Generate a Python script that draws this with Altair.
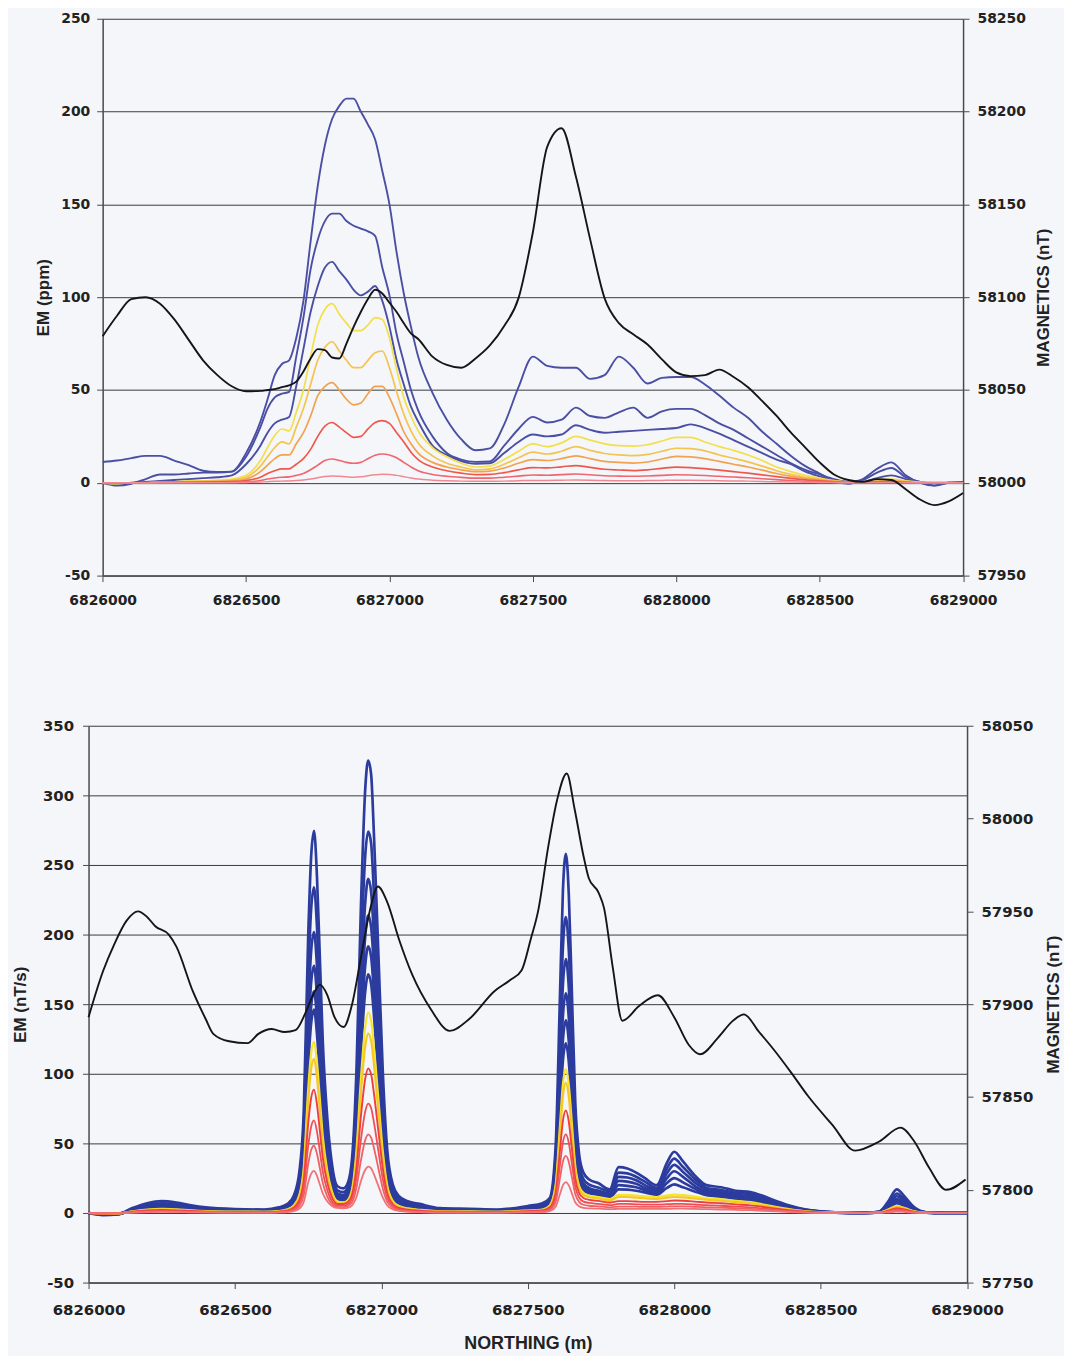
import altair as alt
import pandas as pd

BASE_NORTHING = 6826000
X_TICKS = [6826000, 6826500, 6827000, 6827500, 6828000, 6828500, 6829000]

# ---------------- TOP PANEL: EM (ppm) + magnetics ----------------
# distance along the line from 6826000 N (m)
TOP_DIST = [0, 50, 100, 150, 200, 250, 300, 350, 400, 450, 500,
            550, 575, 600, 625, 650, 675, 700, 725, 750, 775, 800, 825, 850, 875, 900,
            925, 950, 975, 1000, 1025, 1050, 1075, 1100,
            1150, 1200, 1250, 1300, 1350, 1400, 1450, 1500,
            1550, 1600, 1650, 1700, 1750, 1800, 1850, 1900, 1950, 2000,
            2050, 2100, 2150, 2200, 2250, 2300, 2350, 2400, 2450, 2500,
            2550, 2600, 2650, 2700, 2750, 2800, 2850, 2900, 2950, 3000]

TOP_BLUE_1 = [11.2, 12, 13.3, 14.5, 14.5, 12, 9.5, 6.5, 5.8, 6, 16,
              33, 45, 58, 64, 66, 78, 98, 130, 160, 182, 196, 203, 207, 207, 200, 193, 185, 168, 150, 124, 102, 84, 68,
              48.5, 34, 23.5, 17.5, 18.5, 31.5, 51.5, 68,
              63, 62, 62, 56, 58, 68, 62, 53.5, 56.5, 57,
              57, 53, 47, 40.5, 35, 27.5, 21, 14.5, 9, 5, 1, -0.5, 2, 7.5, 11, 4, 0, -1.5, 0, 0.5]
TOP_BLUE_2 = [0, -1.5, -0.5, 2, 4.5, 4.5, 5, 5.5, 5.5, 6, 14,
              30, 40, 46, 48, 49, 68, 89, 115, 131, 141, 145, 145, 141, 138.5, 137, 135.5, 133, 116, 101, 80, 65, 50, 39,
              25, 16, 12.5, 11.3, 11.5, 20, 29, 35.5,
              32.5, 34, 40.5, 36, 35, 38, 40.5, 35, 38.5, 39.8,
              39.8, 36.5, 32, 28.5, 24, 19.5, 15, 10.5, 7, 4.5, 2, 0.5, 1.5, 5.5, 8, 3, 0.5, -1.5, 0, 0]
TOP_BLUE_3 = [0, -0.5, 0, 0.5, 1, 1.5, 2, 2.5, 3, 4, 10,
              20, 27, 32, 34, 35.5, 52, 72, 92, 106, 116, 119, 114, 109.5, 104, 101, 103, 106, 98, 84, 66, 53, 41, 33,
              20, 15, 11.7, 10.3, 10.5, 16, 22, 26,
              25, 26, 31, 28.5, 27, 27.5, 28, 28.5, 29, 29.5,
              31.5, 29.5, 26.5, 23, 19.5, 16, 12.5, 10, 6, 3.5, 1.5, 0.3, 0.5, 2.5, 4, 2, 0.5, 0, 0, 0]
TOP_YELLOW = [0, -0.5, 0, 0, 0.5, 0.5, 1, 1, 1.5, 2, 4,
              12, 19, 25.5, 29, 28, 38, 50, 68, 85, 93.5, 96.5, 91, 86, 82, 82, 85, 89, 88, 78, 61, 46, 36, 28,
              19, 14, 10.5, 8.5, 9, 12.5, 17, 21,
              19.5, 21.5, 25, 23, 21, 20, 19.8, 20.5, 22.5, 24.5,
              24.5, 22, 19.5, 17.5, 15, 12, 8.5, 6, 4, 2.5, 1.2, 0.5, 0.5, 1.5, 2, 1, 0.3, 0, 0, 0]
TOP_AMBER = [0, -0.3, 0, 0, 0.3, 0.4, 0.6, 0.8, 1, 1.5, 3,
             9, 14, 19, 22, 21, 30, 40, 53, 66, 73, 76, 71, 66, 62, 62, 66, 70, 71, 62, 49, 37, 28, 21.5,
             14.5, 10.5, 8.5, 7, 7.5, 10, 13.5, 16.5,
             15.5, 17, 19.5, 17.5, 15.8, 15, 14.6, 15.3, 17, 18.6,
             18.4, 17.2, 15, 13.2, 11.3, 9, 6.5, 4.5, 3, 2, 1, 0.4, 0.4, 1, 1.5, 0.7, 0.2, 0, 0, 0]
TOP_ORANGE = [0, -0.2, 0, 0, 0.2, 0.3, 0.4, 0.6, 0.8, 1, 2,
              6, 9.5, 13, 15, 15, 21, 27, 36, 47, 52, 54, 50, 45, 42, 43, 48, 52, 52, 46, 37, 27.5, 21, 16,
              11, 8.5, 7, 6, 6.3, 8, 10.5, 12.5,
              12, 13, 14.5, 13, 11.5, 11, 10.6, 11.2, 12.8, 14.2,
              14, 13, 11.5, 10, 8.5, 6.8, 5, 3.5, 2.3, 1.5, 0.8, 0.3, 0.3, 0.6, 1, 0.5, 0, 0, 0, 0]
TOP_RED_1 = [0, 0, 0, 0.1, 0.2, 0.2, 0.3, 0.4, 0.5, 0.6, 1.2,
             3, 5, 6.5, 7.5, 7.5, 10, 13, 18, 25, 30.5, 32.5, 30, 27, 24.5, 25, 29, 32.5, 33.5, 32, 27, 22, 16.5, 12.5,
             8.5, 6.5, 5.2, 4.4, 4.5, 5.5, 7, 8.2,
             8, 8.6, 9.3, 8.3, 7.3, 6.9, 6.6, 7, 7.8, 8.4,
             8.2, 7.6, 6.8, 6, 5.2, 4.3, 3.3, 2.4, 1.6, 1, 0.5, 0.2, 0.2, 0.4, 0.6, 0.3, 0, 0, 0, 0]
TOP_RED_2 = [0, 0, 0, 0, 0.1, 0.1, 0.1, 0.2, 0.2, 0.3, 0.5,
             1.2, 2, 2.6, 3, 3.2, 4, 5, 7, 9.5, 12, 12.8, 12, 11, 10.5, 11, 13, 14.8, 15.5, 15, 13.5, 11, 8.5, 6.5,
             4.5, 3.5, 2.9, 2.5, 2.5, 3, 3.6, 4.2,
             4.1, 4.4, 4.7, 4.3, 3.8, 3.6, 3.5, 3.7, 4, 4.3,
             4.2, 3.9, 3.5, 3.1, 2.7, 2.2, 1.7, 1.2, 0.8, 0.5, 0.2, 0.1, 0.1, 0.2, 0.3, 0.1, 0, 0, 0, 0]
TOP_RED_3 = [0, 0, 0, 0, 0, 0, 0, 0, 0, 0, 0.2,
             0.4, 0.6, 0.8, 0.9, 1, 1.2, 1.5, 2, 2.7, 3.4, 3.7, 3.5, 3.2, 3, 3.2, 3.8, 4.3, 4.6, 4.5, 4, 3.3, 2.6, 2,
             1.4, 1.1, 0.9, 0.8, 0.8, 0.9, 1.1, 1.3,
             1.3, 1.4, 1.5, 1.4, 1.2, 1.1, 1.1, 1.2, 1.3, 1.4,
             1.4, 1.3, 1.1, 1, 0.9, 0.7, 0.5, 0.4, 0.3, 0.2, 0.1, 0, 0, 0, 0, 0, 0, 0, 0, 0]
TOP_MAG = [58079, 58090, 58099, 58100, 58096.5, 58088, 58077, 58066, 58058, 58052, 58049.3,
           58049.5, 58050, 58050.5, 58051.5, 58052.5, 58054.5, 58060, 58067, 58072, 58071.5, 58067.5, 58067,
           58075, 58084, 58092, 58099, 58104, 58102, 58097, 58092, 58086, 58080.5, 58077.5,
           58068, 58063.5, 58062, 58067, 58074, 58084.5, 58099.5, 58135,
           58181, 58191, 58165, 58131, 58099.5, 58086, 58080, 58074.5, 58066.5, 58059.5,
           58057.5, 58058, 58061, 58057, 58051.5, 58044, 58036, 58027, 58019, 58011,
           58004.5, 58001.5, 58000.5, 58002, 58001.5, 57996.5, 57991, 57988, 57990, 57994.5]

TOP_SERIES = [("EM ch 1", TOP_BLUE_1), ("EM ch 2", TOP_BLUE_2), ("EM ch 3", TOP_BLUE_3),
              ("EM ch 4", TOP_YELLOW), ("EM ch 5", TOP_AMBER), ("EM ch 6", TOP_ORANGE),
              ("EM ch 7", TOP_RED_1), ("EM ch 8", TOP_RED_2), ("EM ch 9", TOP_RED_3)]
TOP_COLORS = ["#4b4fa3", "#4b4fa3", "#4b4fa3", "#f3df4a", "#f5c34e", "#f2a24c",
              "#ee584c", "#ee6670", "#f08a90"]
TOP_WIDTHS = [1.9, 1.9, 1.9, 1.7, 1.7, 1.7, 1.7, 1.6, 1.5]

# ---------------- BOTTOM PANEL: EM (nT/s) + magnetics ----------------
BOT_DIST = [0, 50, 100, 150, 200, 250, 300, 350, 400, 500, 600, 650,
            680, 700, 720, 735, 750, 760, 770, 780, 790, 800, 815, 830, 850,
            870, 885, 900, 915, 930, 945, 955, 965, 975, 990, 1005, 1020, 1040, 1060, 1090,
            1130, 1200, 1300, 1400, 1500, 1550,
            1575, 1595, 1610, 1620, 1630, 1640, 1650, 1662, 1675, 1690, 1710, 1740,
            1780, 1810, 1840, 1870, 1900, 1940, 1975, 2000, 2030, 2070, 2110, 2160, 2210, 2260, 2300, 2350, 2400,
            2450, 2550, 2650, 2700, 2730, 2760, 2790, 2820, 2860, 2920, 3000]

BOT_BLUE_1 = [0, -1.5, -1, 3.5, 7, 8.5, 7.5, 5.5, 4, 2.8, 2.5, 4,
              6.6, 12, 29.7, 73, 198, 255.5, 274.5, 242, 182.5, 122.7, 69, 37, 19.2,
              17.7, 21.4, 39.6, 103, 219, 305, 325, 315, 269.5, 185, 100.5, 45.3, 19.8, 12.1, 8.4,
              6.5, 3.5, 3, 2.5, 5, 7,
              10.7, 47.5, 157, 232, 258, 229, 162, 80, 42.7, 29, 24, 21.5,
              17, 33, 32, 29, 25, 20, 36, 44, 37, 27, 20, 18.5, 16, 15, 12.5, 8.5, 5,
              2.5, 0.5, 0, 1, 8, 17, 11, 4, 0.5, 0, 0]
BOT_BLUE_2 = [0, -1.2, -0.8, 2.9, 5.7, 7, 6.2, 4.5, 3.3, 2.3, 2.1, 3.3,
              5.5, 10.1, 25.2, 62.3, 169, 217.8, 234, 206, 155.5, 104.5, 58.7, 31.4, 16.3,
              15, 18.1, 33.4, 87, 184.5, 257.3, 274, 265.5, 227.2, 156, 84.7, 38.1, 16.6, 10.2, 7,
              5.3, 2.9, 2.5, 2, 4.1, 5.7,
              9, 39.4, 129.5, 191.3, 212.5, 189, 133.8, 66.6, 35.8, 24.4, 20.4, 18.3,
              15.5, 29, 28.5, 26, 22.5, 18, 32, 39, 33, 24.5, 18, 16.5, 14.5, 13.5, 11, 7.5, 4.5,
              2.2, 0.4, 0, 0.8, 6.5, 14, 9, 3.3, 0.4, 0, 0]
BOT_BLUE_3 = [0, -1, -0.7, 2.5, 4.9, 6, 5.3, 3.9, 2.8, 2, 1.8, 2.8,
              4.8, 8.8, 21.8, 53.8, 145.8, 187.8, 201.8, 177.8, 134.1, 90.1, 50.6, 27.1, 14,
              12.9, 15.6, 28.9, 75.5, 160.1, 223.4, 240, 230.6, 197.3, 135.4, 73.5, 33, 14.4, 8.8, 6.1,
              4.6, 2.5, 2.1, 1.8, 3.5, 4.9,
              7.9, 33.9, 111.2, 164.2, 182.4, 162.2, 115, 57.4, 31.1, 21.4, 17.9, 16.1,
              14, 26, 25.5, 23.5, 20, 16.5, 28.5, 34.5, 29.5, 22, 16.5, 15, 13, 12, 10, 6.8, 4,
              2, 0.3, 0, 0.7, 5.5, 12, 7.8, 2.8, 0.3, 0, 0]
BOT_BLUE_4 = [0, -0.9, -0.6, 2.1, 4.2, 5.1, 4.5, 3.3, 2.4, 1.7, 1.5, 2.4,
              4.1, 7.7, 19.1, 47.3, 128.2, 165.2, 177.5, 156.4, 118, 79.2, 44.4, 23.7, 12.3,
              11.3, 13.8, 25.6, 67.2, 142.6, 199, 213.8, 205.3, 175.6, 120.5, 65.4, 29.4, 12.7, 7.7, 5.2,
              3.9, 2.1, 1.8, 1.5, 3, 4.2,
              7.2, 29.6, 96.3, 142, 157.7, 140.4, 99.8, 50.2, 27.6, 19.3, 16.3, 14.8,
              13, 23, 22.5, 21, 18, 15, 25, 30, 26, 19.5, 15, 13.8, 12, 11, 9, 6.2, 3.6,
              1.8, 0.3, 0, 0.6, 4.6, 10, 6.5, 2.4, 0.3, 0, 0]
BOT_BLUE_5 = [0, -0.8, -0.5, 1.8, 3.6, 4.4, 3.9, 2.9, 2.1, 1.5, 1.3, 2.1,
              3.7, 6.8, 17.1, 42.4, 115.1, 148.2, 159.3, 140.3, 105.9, 71.1, 39.9, 21.3, 11,
              10.1, 12.4, 23, 60.2, 127.8, 178.3, 191.6, 184, 157.4, 108, 58.6, 26.3, 11.3, 6.9, 4.6,
              3.4, 1.8, 1.6, 1.3, 2.6, 3.6,
              6.6, 26.3, 84.5, 124.5, 138.3, 123.2, 87.8, 44.7, 25, 17.7, 15.1, 13.8,
              12, 20, 19.5, 18.5, 16.5, 14, 21.5, 25, 22, 17.5, 13.8, 12.8, 11, 10, 8.2, 5.6, 3.3,
              1.6, 0.3, 0, 0.5, 3.9, 8.5, 5.5, 2, 0.2, 0, 0]
BOT_BLUE_6 = [0, -0.7, -0.5, 1.6, 3.2, 3.8, 3.4, 2.5, 1.8, 1.3, 1.1, 1.8,
              3.3, 6.2, 15.6, 38.8, 105.5, 136, 146.1, 128.7, 97, 65.2, 36.5, 19.5, 10,
              9.1, 11, 20.5, 53.8, 114.3, 159.5, 171.4, 164.6, 140.8, 96.6, 52.4, 23.5, 10.1, 6.1, 4,
              2.9, 1.6, 1.4, 1.1, 2.3, 3.2,
              6, 23.4, 74.6, 109.7, 121.8, 108.6, 77.7, 39.8, 22.7, 16.4, 14.1, 13,
              11, 17, 16.8, 16, 14.8, 13, 18, 20.5, 18.5, 15.5, 12.8, 11.8, 10.2, 9.2, 7.5, 5.1, 3,
              1.4, 0.2, 0, 0.4, 3.3, 7, 4.6, 1.7, 0.2, 0, 0]
BOT_YELLOW_1 = [0, -0.5, -0.4, 1.2, 2.5, 3, 2.6, 1.9, 1.4, 1, 0.9, 1.4,
                2.7, 5.2, 13.1, 32.6, 88.7, 114.4, 122.9, 108.3, 81.6, 54.8, 30.6, 16.3, 8.3,
                7.6, 9.2, 17.2, 45.2, 96, 134, 144, 138.4, 118.3, 81.2, 44, 19.7, 8.4, 5, 3.3,
                2.3, 1.2, 1.1, 0.9, 1.8, 2.5,
                5.4, 19.9, 63.2, 92.8, 103.1, 92, 65.9, 34, 19.6, 14.4, 12.4, 11.5,
                10, 13, 13, 12.5, 12, 11.5, 12.5, 13.2, 12.8, 11.8, 10.5, 9.8, 8.7, 7.8, 6.3, 4.3, 2.5,
                1.2, 0.2, 0, 0.3, 2.4, 5, 3.3, 1.2, 0.1, 0, 0]
BOT_YELLOW_2 = [0, -0.5, -0.3, 1, 2.1, 2.6, 2.3, 1.7, 1.2, 0.8, 0.8, 1.2,
                2.4, 4.6, 11.8, 29.4, 80, 103, 110.8, 97.6, 73.5, 49.3, 27.6, 14.6, 7.4,
                6.8, 8.2, 15.4, 40.4, 86, 119.9, 128.9, 123.8, 105.9, 72.6, 39.3, 17.5, 7.5, 4.4, 2.9,
                2, 1.1, 0.9, 0.8, 1.5, 2.1,
                4.8, 18.1, 57.3, 84.2, 93.5, 83.4, 59.8, 30.9, 17.8, 13, 11.3, 10.4,
                9, 11.5, 11.5, 11, 10.6, 10, 11, 11.5, 11.2, 10.4, 9.5, 8.8, 7.8, 7, 5.6, 3.8, 2.2,
                1.1, 0.2, 0, 0.3, 2.1, 4.5, 3, 1.1, 0.1, 0, 0]
BOT_RED_1 = [0, -0.4, -0.3, 0.9, 1.8, 2.1, 1.9, 1.4, 1, 0.7, 0.6, 1,
             1.9, 3.7, 9.4, 23.5, 64, 82.4, 88.6, 78, 58.9, 39.5, 22.1, 11.8, 6.5,
             6.5, 7.7, 13.2, 32.6, 69.2, 96.6, 103.8, 99.6, 85.2, 58.4, 31.7, 14.2, 6.1, 3.6, 2.3,
             1.6, 0.9, 0.8, 0.6, 1.3, 1.8,
             3.9, 14.4, 45.2, 66.3, 73.6, 65.7, 47.3, 24.6, 14.5, 10.8, 9.4, 8.7,
             7.5, 8.5, 8.5, 8.2, 8, 8, 8.5, 9, 8.8, 8.2, 7.5, 7, 6.2, 5.5, 4.5, 3, 1.8,
             0.9, 0.1, 0, 0.2, 1.6, 3.5, 2.3, 0.8, 0.1, 0, 0]
BOT_RED_2 = [0, -0.3, -0.2, 0.6, 1.3, 1.5, 1.4, 1, 0.7, 0.5, 0.5, 0.7,
             1.5, 2.8, 7.1, 17.6, 48, 61.8, 66.5, 58.5, 44.1, 29.6, 16.6, 8.8, 5.2,
             5.3, 6.2, 10.4, 25.2, 52.4, 73.1, 78.6, 75.4, 64.5, 44.2, 24, 11, 4.9, 2.8, 1.7,
             1.2, 0.6, 0.5, 0.5, 0.9, 1.3,
             3, 11.1, 34.7, 50.9, 56.5, 50.4, 36.3, 18.9, 11.1, 8.2, 7.2, 6.6,
             5.6, 6.5, 6.5, 6.2, 6, 6, 6.3, 6.6, 6.5, 6.1, 5.6, 5.2, 4.6, 4.1, 3.3, 2.2, 1.3,
             0.6, 0.1, 0, 0.1, 1.2, 2.5, 1.7, 0.6, 0.1, 0, 0]
BOT_RED_3 = [0, -0.2, -0.1, 0.5, 0.9, 1.1, 1, 0.7, 0.5, 0.4, 0.3, 0.5,
             1, 2, 5.1, 12.8, 34.9, 45, 48.3, 42.6, 32.1, 21.5, 12, 6.7, 4.1,
             4.2, 4.9, 7.8, 18.3, 37.6, 52.5, 56.4, 54.2, 46.3, 31.8, 17.4, 8.1, 3.7, 1.9, 1.3,
             0.8, 0.5, 0.4, 0.3, 0.7, 0.9,
             2.2, 8, 25.2, 37, 41, 36.7, 26.3, 13.7, 8, 5.9, 5.2, 4.8,
             4.1, 4.6, 4.6, 4.5, 4.4, 4.4, 4.6, 4.8, 4.7, 4.4, 4.1, 3.8, 3.4, 3, 2.4, 1.6, 1,
             0.5, 0.1, 0, 0.1, 0.9, 1.8, 1.2, 0.4, 0, 0, 0]
BOT_RED_4 = [0, -0.1, -0.1, 0.3, 0.6, 0.8, 0.7, 0.5, 0.4, 0.3, 0.2, 0.4,
             0.7, 1.3, 3.2, 8, 21.8, 28.1, 30.2, 26.6, 20.4, 14, 8.4, 5.2, 3.6,
             3.4, 3.7, 5.5, 11.5, 22.8, 31, 33.3, 32, 27.6, 19.3, 11, 5.4, 2.6, 1.5, 0.8,
             0.6, 0.3, 0.3, 0.2, 0.5, 0.6,
             1.3, 4.5, 13.7, 20, 22.2, 19.8, 14.4, 7.7, 4.8, 3.7, 3.3, 3.1,
             2.7, 3, 3, 2.9, 2.9, 2.9, 3, 3.1, 3.1, 2.9, 2.7, 2.5, 2.2, 2, 1.6, 1.1, 0.6,
             0.3, 0, 0, 0.1, 0.5, 1, 0.7, 0.2, 0, 0, 0]

BOT_SERIES = [("EM ch 1", BOT_BLUE_1), ("EM ch 2", BOT_BLUE_2), ("EM ch 3", BOT_BLUE_3),
              ("EM ch 4", BOT_BLUE_4), ("EM ch 5", BOT_BLUE_5), ("EM ch 6", BOT_BLUE_6),
              ("EM ch 7", BOT_YELLOW_1), ("EM ch 8", BOT_YELLOW_2),
              ("EM ch 9", BOT_RED_1), ("EM ch 10", BOT_RED_2), ("EM ch 11", BOT_RED_3), ("EM ch 12", BOT_RED_4)]
BOT_COLORS = ["#2c3c9e"] * 6 + ["#f5e52e", "#f5c828", "#ee3e3e", "#ef4f52", "#f06064", "#f07276"]
BOT_WIDTHS = [2.7] * 6 + [2.2, 2.2, 1.9, 1.8, 1.8, 1.8]

BOT_MAG_DIST = [0, 50, 87, 130, 169, 200, 228, 274, 300, 356, 400, 426, 480, 543, 580, 625, 670, 707,
                740, 770, 790, 815, 840, 871, 900, 930, 960, 988, 1020, 1060, 1105, 1170, 1233, 1300,
                1386, 1440, 1479, 1510, 1535, 1570, 1600, 1633, 1660, 1690, 1708, 1742, 1760, 1790,
                1823, 1880, 1944, 2000, 2050, 2088, 2150, 2200, 2238, 2290, 2341, 2400, 2457, 2540,
                2618, 2700, 2773, 2820, 2870, 2929, 2995]
BOT_MAG = [57893, 57918, 57932, 57945, 57950, 57947, 57942, 57937.5, 57931, 57907, 57892, 57884, 57880,
           57879, 57884, 57886.6, 57885, 57886, 57895, 57906, 57910.5, 57905, 57893, 57887.7, 57900,
           57925, 57950, 57963.4, 57955, 57935, 57916, 57897, 57885.6, 57892, 57907, 57913, 57918.3,
           57935, 57950, 57985, 58010, 58024.3, 58005, 57980, 57968, 57960, 57952, 57920, 57891.1,
           57899, 57904.8, 57893, 57878, 57873, 57882, 57891, 57894.5, 57885, 57875.3, 57863, 57850.5,
           57835, 57821.1, 57826, 57833.5, 57826, 57812, 57800, 57805.5]

LABEL_EXPR = "'' + datum.value"
AXIS_COLOR = "#4a4a4a"
TEXT_COLOR = "#222222"


def make_panel(dist, series, colors, widths, mag_dist, mag_vals, em_domain, em_ticks,
               mag_domain, mag_ticks, em_title, width, height, label_size,
               x_title, x_label_pad, x_range=None, left_offset=0,
               left_label_pad=8, left_title_pad=10, right_label_pad=8, right_title_pad=10):
    rows = []
    for name, vals in series:
        for d, v in zip(dist, vals):
            rows.append({"northing": BASE_NORTHING + d, "em": v, "ch": name})
    em_df = pd.DataFrame(rows)
    mag_df = pd.DataFrame({"northing": [BASE_NORTHING + d for d in mag_dist], "mag": mag_vals})

    scale_kw = dict(domain=[6826000, 6829000], nice=False, zero=False)
    if x_range is not None:
        scale_kw["range"] = x_range
    x_axis_kw = dict(values=X_TICKS, labelExpr=LABEL_EXPR, grid=False, labelFlush=False,
                     labelOverlap=False, tickSize=6, tickColor=AXIS_COLOR, domainColor=AXIS_COLOR,
                     domainWidth=1.5, labelPadding=x_label_pad, labelFont="DejaVu Sans",
                     labelFontWeight="bold", labelFontSize=label_size, labelColor=TEXT_COLOR,
                     titleFont="Liberation Sans", titleFontWeight="bold", titleFontSize=18,
                     titleColor=TEXT_COLOR, titlePadding=17)
    x_axis_kw["title"] = x_title
    x_enc = alt.X("northing:Q", scale=alt.Scale(**scale_kw), axis=alt.Axis(**x_axis_kw))

    em_axis = alt.Axis(values=em_ticks, labelExpr=LABEL_EXPR, title=em_title, grid=True,
                       gridColor="#3a3a3a", gridWidth=1, tickSize=6, tickColor=AXIS_COLOR,
                       domainColor=AXIS_COLOR, domainWidth=1.5, offset=left_offset,
                       labelPadding=left_label_pad, labelFont="DejaVu Sans", labelFontWeight="bold",
                       labelFontSize=label_size, labelColor=TEXT_COLOR, labelFlush=False,
                       titleFont="Liberation Sans", titleFontWeight="bold", titleFontSize=17,
                       titleColor=TEXT_COLOR, titlePadding=left_title_pad)
    y_enc = alt.Y("em:Q", scale=alt.Scale(domain=em_domain, nice=False, zero=False), axis=em_axis)

    em_layers = []
    for (name, _), color, sw in zip(series, colors, widths):
        em_layers.append(
            alt.Chart(em_df)
            .transform_filter(alt.datum.ch == name)
            .mark_line(color=color, strokeWidth=sw, interpolate="monotone")
            .encode(x=x_enc, y=y_enc)
        )
    em_group = alt.layer(*em_layers)

    mag_axis = alt.Axis(values=mag_ticks, labelExpr=LABEL_EXPR, title="MAGNETICS (nT)", orient="right",
                        grid=False, tickSize=6, tickColor=AXIS_COLOR, domainColor=AXIS_COLOR,
                        domainWidth=1.5, labelPadding=right_label_pad, labelFont="DejaVu Sans",
                        labelFontWeight="bold", labelFontSize=label_size, labelColor=TEXT_COLOR,
                        labelFlush=False, titleFont="Liberation Sans", titleFontWeight="bold",
                        titleFontSize=17, titleColor=TEXT_COLOR, titlePadding=right_title_pad,
                        titleAngle=270, titleBaseline="top")
    mag_layer = (
        alt.Chart(mag_df)
        .mark_line(color="#151515", strokeWidth=1.9, interpolate="monotone")
        .encode(x=x_enc,
                y=alt.Y("mag:Q", scale=alt.Scale(domain=mag_domain, nice=False, zero=False), axis=mag_axis))
    )
    return (alt.layer(em_group, mag_layer)
            .resolve_scale(y="independent")
            .properties(width=width, height=height))


top = make_panel(TOP_DIST, TOP_SERIES, TOP_COLORS, TOP_WIDTHS, TOP_DIST, TOP_MAG,
                 [-50, 250], [-50, 0, 50, 100, 150, 200, 250],
                 [57950, 58250], [57950, 58000, 58050, 58100, 58150, 58200, 58250],
                 "EM (ppm)", 879.5, 560, 14, None, 12,
                 x_range=[14.2, 879.5], left_offset=-14.2,
                 left_label_pad=7, left_title_pad=8, right_label_pad=8, right_title_pad=10)

bottom = make_panel(BOT_DIST, BOT_SERIES, BOT_COLORS, BOT_WIDTHS, BOT_MAG_DIST, BOT_MAG,
                    [-50, 350], [-50, 0, 50, 100, 150, 200, 250, 300, 350],
                    [57750, 58050], [57750, 57800, 57850, 57900, 57950, 58000, 58050],
                    "EM (nT/s)", 883.5, 560, 15, "NORTHING (m)", 14,
                    left_label_pad=9, left_title_pad=13, right_label_pad=8, right_title_pad=13)

chart = (
    alt.vconcat(top, bottom, spacing=112)
    .properties(padding={"left": 3, "top": 0, "right": 2, "bottom": 0})
    .configure(background="#f4f6fa")
    .configure_view(strokeWidth=0)
)

chart.save("out.html", embed_options={"renderer": "svg", "actions": False})
